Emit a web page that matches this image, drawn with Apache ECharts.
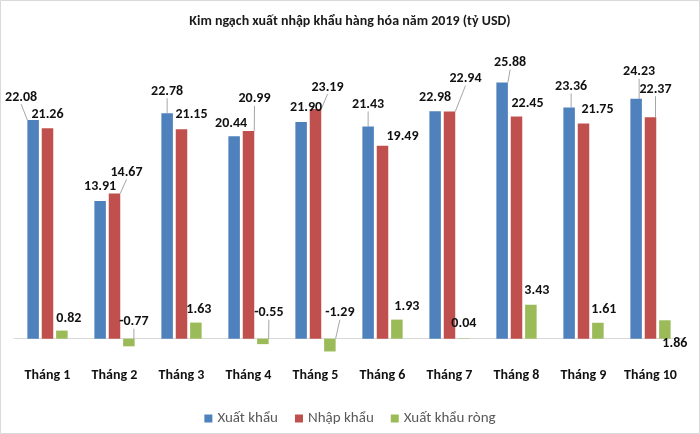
<!DOCTYPE html>
<html>
<head>
<meta charset="utf-8">
<script src="https://cdn.jsdelivr.net/npm/echarts@6/dist/echarts.min.js"></script>
<style>
	html, body { margin: 0; padding: 0; background: #fff; }
	#chart { width: 700px; height: 434px; }
</style>
</head>
<body>
<div id="chart"></div>
<script>
var months = [ 'Tháng 1', 'Tháng 2', 'Tháng 3', 'Tháng 4', 'Tháng 5', 'Tháng 6', 'Tháng 7', 'Tháng 8', 'Tháng 9', 'Tháng 10' ];
var xuatKhau = [ 22.08, 13.91, 22.78, 20.44, 21.90, 21.43, 22.98, 25.88, 23.36, 24.23 ];
var nhapKhau = [ 21.26, 14.67, 21.15, 20.99, 23.19, 19.49, 22.94, 22.45, 21.75, 22.37 ];
var xuatKhauRong = [ 0.82, -0.77, 1.63, -0.55, -1.29, 1.93, 0.04, 3.43, 1.61, 1.86 ];

// label placement like the Excel original: [dx, dy, leader line?]
var labelPos = [
	[ [ -12, -23, 1 ], [ 0, -14, 0 ], [ 0, -22, 1 ], [ -3, -13, 0 ], [ 5, -14, 0 ],
	  [ 0, -22, 1 ], [ 0, -14, 0 ], [ 8, -20, 1 ], [ 2, -21, 1 ], [ 3, -27, 1 ] ],
	[ [ 0, -14, 0 ], [ 12, -21, 1 ], [ 10, -15, 0 ], [ 6, -32, 1 ], [ 12, -22, 1 ],
	  [ 20, -9, 0 ], [ 16, -33, 1 ], [ 11, -13, 0 ], [ 14, -14, 0 ], [ 5, -28, 1 ] ],
	[ [ 7, -12, 0 ], [ 5, -17, 1 ], [ 3, -13, 0 ], [ 6, -26, 1 ], [ 10, -26, 1 ],
	  [ 10, -13, 0 ], [ 0, -15, 0 ], [ 6, -14, 0 ], [ 6, -13, 0 ], [ 10, 23, 0 ] ]
];

var font = 'Carlito, "Liberation Sans", Arial, sans-serif';

function items(values, s) {
	return values.map(function(v, i) {
		return {
			value : v,
			labelLine : { show : labelPos[s][i][2] === 1 }
		};
	});
}

function makeSeries(name, values, s, color) {
	return {
		name : name,
		type : 'bar',
		barWidth : 11.5,
		barGap : '25%',
		itemStyle : { color : color },
		data : items(values, s),
		label : {
			show : true,
			position : 'top',
			color : '#111',
			fontFamily : font,
			fontWeight : 'bold',
			fontSize : 14,
			formatter : function(p) {
				return p.value.toFixed(2);
			}
		},
		labelLine : {
			show : true,
			lineStyle : { color : '#a6a6a6', width : 1 }
		},
		labelLayout : function(p) {
			var o = labelPos[s][p.dataIndex];
			return {
				x : p.rect.x + p.rect.width / 2 + o[0],
				y : p.rect.y + o[1],
				align : 'center',
				verticalAlign : 'middle'
			};
		}
	};
}

var chart = echarts.init(document.getElementById('chart'));
var option = {
	animation : false,
	backgroundColor : '#fff',
	title : {
		text : 'Kim ngạch xuất nhập khẩu hàng hóa năm 2019 (tỷ USD)',
		left : 'center',
		top : 9,
		textStyle : {
			fontFamily : font,
			fontWeight : 'bold',
			fontSize : 14,
			color : '#1a1a1a'
		}
	},
	legend : {
		data : [ 'Xuất khẩu', 'Nhập khẩu', 'Xuất khẩu ròng' ],
		left : 'center',
		top : 406,
		icon : 'rect',
		itemWidth : 8,
		itemHeight : 8,
		itemGap : 17,
		textStyle : {
			fontFamily : font,
			fontSize : 15,
			color : '#595959'
		}
	},
	grid : {
		left : 14,
		right : 16,
		top : 61.5,
		bottom : 75.5,
		containLabel : false
	},
	xAxis : {
		type : 'category',
		data : months,
		axisTick : { show : false },
		axisLine : {
			onZero : true,
			lineStyle : { color : '#d9d9d9', width : 1 }
		},
		axisLabel : {
			margin : 10,
			color : '#111',
			fontFamily : font,
			fontWeight : 'bold',
			fontSize : 14,
			interval : 0
		}
	},
	yAxis : {
		type : 'value',
		show : false,
		min : -2,
		max : 28,
		splitLine : { show : false }
	},
	graphic : [ {
		type : 'rect',
		shape : { x : 0.5, y : 0.5, width : 699, height : 433 },
		style : { fill : 'none', stroke : '#d9d9d9', lineWidth : 1 },
		silent : true
	} ],
	series : [
		makeSeries('Xuất khẩu', xuatKhau, 0, '#4F81BD'),
		makeSeries('Nhập khẩu', nhapKhau, 1, '#C0504D'),
		makeSeries('Xuất khẩu ròng', xuatKhauRong, 2, '#9BBB59')
	]
};
chart.setOption(option);
</script>
</body>
</html>
